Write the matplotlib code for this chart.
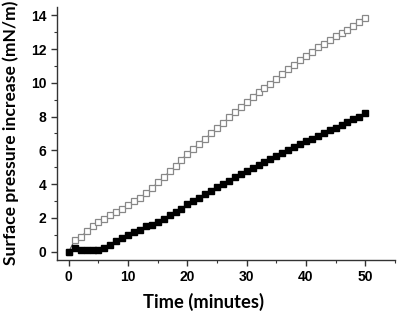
import numpy as np
import matplotlib.pyplot as plt
from matplotlib.ticker import MultipleLocator

# time in minutes (one reading per minute)
time_min = list(range(0, 51))

# open squares (upper series)
open_series = [0.0, 0.7, 0.85, 1.2, 1.5, 1.75, 1.95, 2.15, 2.35, 2.55,
               2.75, 3.0, 3.2, 3.45, 3.75, 4.1, 4.4, 4.75, 5.05, 5.45,
               5.8, 6.1, 6.4, 6.7, 7.0, 7.3, 7.6, 7.95, 8.25, 8.55,
               8.85, 9.15, 9.45, 9.7, 9.95, 10.25, 10.5, 10.8, 11.05, 11.35,
               11.6, 11.85, 12.1, 12.3, 12.55, 12.75, 12.95, 13.15, 13.4, 13.6,
               13.85]

# filled squares (lower series)
filled_series = [0.0, 0.2, 0.12, 0.1, 0.1, 0.1, 0.2, 0.4, 0.65, 0.8,
                 1.0, 1.15, 1.3, 1.5, 1.6, 1.75, 1.95, 2.15, 2.35, 2.55,
                 2.8, 3.0, 3.2, 3.4, 3.6, 3.8, 4.0, 4.2, 4.4, 4.6,
                 4.8, 4.95, 5.15, 5.3, 5.5, 5.65, 5.85, 6.0, 6.2, 6.35,
                 6.55, 6.7, 6.85, 7.05, 7.2, 7.35, 7.5, 7.7, 7.85, 8.0,
                 8.2]

x_ticks = [0, 10, 20, 30, 40, 50]
y_ticks = [0, 2, 4, 6, 8, 10, 12, 14]

fig = plt.figure(figsize=(3.97, 3.12), dpi=100)
ax = fig.add_axes([0.1436, 0.1667, 0.851, 0.811])

ax.plot(time_min, open_series, linestyle='-', linewidth=0.8, color='#555555',
        marker='s', markersize=5, markerfacecolor='white',
        markeredgecolor='#888888', markeredgewidth=0.9)
ax.plot(time_min, filled_series, linestyle='none',
        marker='s', markersize=5, markerfacecolor='black',
        markeredgecolor='black')

ax.set_xlim(-2, 55)
ax.set_ylim(-0.5, 14.5)
ax.set_xticks(x_ticks)
ax.set_yticks(y_ticks)
ax.xaxis.set_minor_locator(MultipleLocator(5))
ax.yaxis.set_minor_locator(MultipleLocator(1))

for side in ['top', 'right']:
    ax.spines[side].set_visible(False)
for side in ['left', 'bottom']:
    ax.spines[side].set_linewidth(1.0)
    ax.spines[side].set_color('#333333')

ax.tick_params(which='major', length=4, width=1.0, color='#333333', direction='out')
ax.tick_params(which='minor', length=2.5, width=0.8, color='#333333', direction='out')
for lab in ax.get_xticklabels() + ax.get_yticklabels():
    lab.set_fontfamily('Liberation Sans')
    lab.set_fontweight('bold')
    lab.set_fontsize(10)

ax.set_xlabel('Time (minutes)', fontfamily='Lato', fontweight='bold', fontsize=13.2)
ax.set_ylabel('Surface pressure increase (mN/m)', fontfamily='Lato', fontweight='bold',
              fontsize=12.6)
# the labels sit off-centre in the original, so place them by hand
ax.xaxis.label.set_va('center')
ax.xaxis.set_label_coords(0.433, -0.165)
ax.yaxis.label.set_va('center')
ax.yaxis.set_label_coords(-0.138, 0.502)

plt.savefig('out.png', dpi=100)
